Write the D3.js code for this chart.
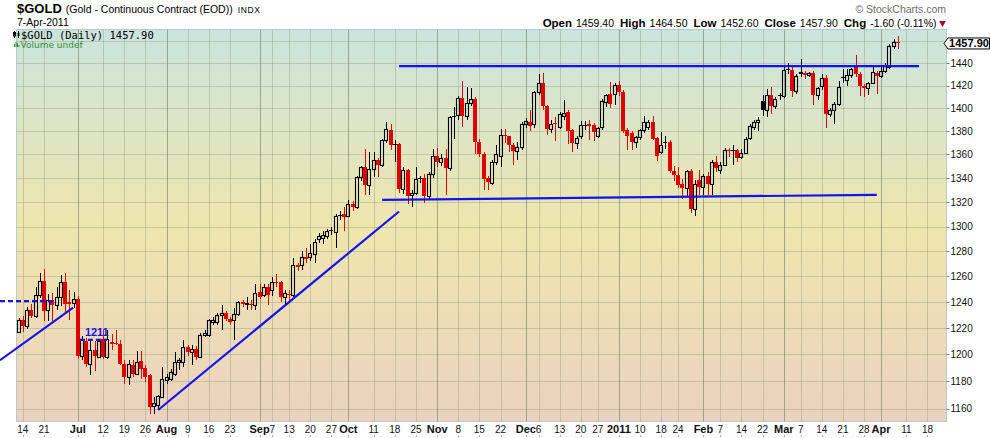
<!DOCTYPE html>
<html>
<head>
<meta charset="utf-8">
<title>$GOLD daily</title>
<script src="https://cdn.jsdelivr.net/npm/d3@7/dist/d3.min.js"></script>
<style>
  body { margin: 0; background: #fff; }
  svg { display: block; font-family: 'Liberation Sans', Arial, sans-serif; }
</style>
</head>
<body>
<svg id="chart" width="990" height="438"></svg>
<script>
'use strict';

// trading calendar (first bar, number of slots incl. the empty ones on the right, closed days)
var firstDay  = '2010-06-11';
var slotCount = 220;
var holidays  = ['2010-07-05', '2010-09-06', '2010-11-25', '2010-12-24', '2011-01-17', '2011-02-21'];

var opens = [
  1217, 1226.4, 1221.3, 1234, 1229.5, 1245.3, 1256.8, 1234, 1241.2, 1238,
  1244, 1255.5, 1240, 1239.2, 1242.7, 1198.5, 1210, 1192.5, 1203, 1198,
  1211.8, 1198, 1209.4, 1208.5, 1208.1, 1193, 1183.1, 1191.8, 1185.6, 1195,
  1189.8, 1184.4, 1161.8, 1162.5, 1168.5, 1180.7, 1181.9, 1185.6, 1194.3, 1194.3,
  1205.5, 1201.8, 1204.3, 1198, 1214.4, 1214.4, 1224.6, 1224.6, 1229.7, 1231.7,
  1227.2, 1225.9, 1231, 1240, 1238.2, 1238.7, 1237.4, 1247.9, 1245.3, 1251.8,
  1249.2, 1255.8, 1255.3, 1244, 1246.6, 1245.8, 1268.7, 1268.7, 1275.1, 1275.1,
  1277.8, 1290, 1291, 1292, 1297.5, 1295.3, 1309.8, 1309.9, 1308.8, 1318.6,
  1315.8, 1340.8, 1349.4, 1333.9, 1348, 1355.2, 1350.9, 1372, 1380.6, 1369,
  1369, 1331.1, 1346.5, 1325.6, 1327.5, 1340.5, 1339.7, 1324.9, 1343.7, 1359.1,
  1353.4, 1357.1, 1348.7, 1393, 1393.6, 1409.1, 1392.8, 1404.4, 1408.2, 1371,
  1360.6, 1340.3, 1335.8, 1353.7, 1358.3, 1376.5, 1375.4, 1368, 1362.7, 1366.6,
  1385.8, 1387.8, 1385.8, 1414.1, 1422, 1401.8, 1382, 1387, 1384, 1393.1,
  1396.5, 1380.6, 1369.5, 1375.4, 1385.5, 1386, 1385.5, 1376.2, 1383.5, 1405.3,
  1412.6, 1412.6, 1420.9, 1414.1, 1381.2, 1378.3, 1370.6, 1374.8, 1380.6, 1383.5,
  1387.8, 1374.2, 1361.9, 1370.6, 1370.4, 1345.6, 1343, 1334.7, 1331.9, 1345.6,
  1314.3, 1338.6, 1332.9, 1341.4, 1334.7, 1353.7, 1347.1, 1351.1, 1364, 1364,
  1363.4, 1357.7, 1361.4, 1373.7, 1383.5, 1387.8, 1405.9, 1398.8, 1411.8, 1401.8,
  1411.4, 1410.6, 1434.6, 1434, 1415, 1431.5, 1431, 1429, 1431, 1411.8,
  1419.4, 1426.6, 1395.1, 1398.8, 1403.8, 1427.9, 1424.5, 1429, 1437.3, 1430.4,
  1420, 1417.9, 1422.4, 1431, 1428.4, 1433.4, 1436.4, 1455.2, 1459.4
];
var highs = [
  1227.5, 1229, 1236, 1238.6, 1251.6, 1262.9, 1265.5, 1246.6, 1247, 1251.6,
  1261, 1262.9, 1249.5, 1247.8, 1244.5, 1214, 1212.5, 1210, 1210, 1211.5,
  1218.3, 1218.3, 1215.7, 1218.3, 1210.6, 1195.5, 1195.5, 1195.5, 1202.5, 1202.5,
  1191.8, 1185, 1168.5, 1170, 1190.5, 1185.6, 1189, 1201.8, 1197, 1210.6,
  1207, 1206.8, 1206, 1216, 1218.3, 1227, 1228.4, 1231.7, 1237.3, 1233,
  1228.4, 1235, 1241, 1241.5, 1244, 1241.2, 1254.2, 1254.2, 1254, 1254.2,
  1259.5, 1262, 1256.5, 1249.5, 1249, 1275, 1270.6, 1280.5, 1283, 1285.9,
  1290, 1295, 1296, 1298, 1300, 1310.5, 1313, 1315.8, 1321.4, 1320.8,
  1341.4, 1350, 1364.9, 1362, 1362, 1356.6, 1373, 1387.8, 1386.4, 1372,
  1370, 1349, 1348, 1329.7, 1349.3, 1342, 1343.7, 1345, 1364.9, 1365.7,
  1360, 1364.3, 1393.5, 1400.9, 1411.1, 1424.4, 1418.5, 1418, 1410, 1373,
  1362, 1342, 1355, 1367.7, 1382, 1382, 1376, 1370, 1371, 1388,
  1391, 1398.6, 1415, 1430.5, 1431, 1403, 1390, 1392, 1397, 1407.4,
  1398, 1382, 1376, 1388.4, 1388.4, 1389.3, 1387, 1383.5, 1408.2, 1412.6,
  1423, 1422, 1423.8, 1416, 1383, 1380, 1376, 1382, 1392.8, 1390,
  1392.8, 1375, 1379, 1375.4, 1372, 1350.4, 1349.3, 1339.4, 1347, 1347.9,
  1338.7, 1346.5, 1343.1, 1345, 1355.7, 1358.3, 1353.7, 1365.7, 1365.7, 1367.7,
  1365, 1364.9, 1374.8, 1386, 1390, 1392, 1411.2, 1417.1, 1418.5, 1410,
  1413, 1438.5, 1440, 1436.4, 1430, 1444, 1433, 1432, 1433, 1419,
  1430.4, 1429, 1400, 1405, 1423.6, 1434.9, 1434.9, 1436, 1447.8, 1432,
  1421, 1423, 1436.4, 1433, 1437.9, 1440, 1457, 1462.4, 1464.5
];
var lows = [
  1216, 1217, 1219, 1228, 1228, 1243, 1225.4, 1225.4, 1225, 1234,
  1237, 1232, 1225.9, 1235, 1196.8, 1196, 1190.5, 1184.4, 1187.6, 1197,
  1196.8, 1196.8, 1203, 1206.8, 1191.8, 1178.2, 1177, 1183.1, 1184.4, 1181.9,
  1179.4, 1156.3, 1155.9, 1160, 1167.3, 1178, 1180, 1184, 1188, 1190.5,
  1199, 1191.8, 1196, 1197, 1213, 1213, 1222, 1222, 1218.3, 1225,
  1222.1, 1210.6, 1229, 1236, 1233.5, 1234, 1233.5, 1242.7, 1244, 1237.3,
  1245, 1251.8, 1240, 1237.3, 1241, 1244, 1264, 1265, 1271, 1272,
  1271, 1287, 1286, 1290, 1293, 1283, 1305, 1296, 1307.4, 1313,
  1314, 1338, 1325.6, 1325.6, 1340.9, 1340.9, 1349, 1370, 1363.4, 1353.4,
  1328, 1327, 1318.6, 1315.8, 1326, 1336, 1319.2, 1323, 1340, 1349.4,
  1350, 1325.6, 1346, 1373.3, 1390, 1383.5, 1390, 1402, 1360.6, 1357.7,
  1330.3, 1330.3, 1334, 1351, 1349, 1370, 1362, 1351.4, 1355, 1364,
  1383, 1380, 1383, 1412, 1398, 1377, 1378, 1371.5, 1382, 1390,
  1369.2, 1361.9, 1365, 1373, 1380.6, 1372, 1371.9, 1374, 1381, 1400.9,
  1400, 1403, 1411, 1378, 1363.4, 1364, 1365.7, 1372, 1378, 1381,
  1372, 1354.8, 1360, 1365, 1344.2, 1337.5, 1332, 1322.8, 1324.1, 1311,
  1308.6, 1325.6, 1325.6, 1325.6, 1325.6, 1345.1, 1343.7, 1350, 1358, 1351,
  1353.7, 1356, 1360, 1372, 1381, 1380, 1392.8, 1392.2, 1395.1, 1399,
  1407, 1409, 1430, 1409.7, 1412.6, 1428, 1426, 1428, 1402.4, 1406.8,
  1416, 1382.6, 1392.2, 1386.1, 1402, 1422.4, 1420, 1427, 1428, 1410.3,
  1409.7, 1411.2, 1421, 1412.6, 1427, 1431, 1435, 1453, 1452.6
];
var closes = [
  1226.4, 1221.3, 1234, 1229.5, 1245.3, 1256.8, 1233, 1241.2, 1237.3, 1244,
  1255.5, 1238.6, 1238.2, 1242.7, 1198.5, 1211.8, 1192.5, 1203, 1198.5, 1210.1,
  1198, 1211.8, 1208.1, 1207.5, 1193, 1183.1, 1192.5, 1185.1, 1194.3, 1189.3,
  1183.1, 1161.3, 1163.7, 1169, 1181.9, 1183.1, 1186.8, 1194.3, 1195.5, 1205.5,
  1201.8, 1204.3, 1198, 1214.4, 1216.2, 1225.9, 1226.2, 1229.7, 1231.7, 1227.2,
  1224.6, 1231, 1239.9, 1238.2, 1239, 1237.4, 1247.1, 1244, 1251.8, 1245.3,
  1255.8, 1254.5, 1244, 1247.1, 1245.3, 1268.7, 1267.4, 1275.1, 1273.8, 1279,
  1287.3, 1292.7, 1293, 1296.7, 1297, 1309, 1309.5, 1307.7, 1318.6, 1315.8,
  1340.8, 1349.4, 1333.9, 1348, 1355.2, 1350.9, 1372, 1382, 1367.7, 1368.7,
  1331.1, 1347.1, 1324.9, 1327.5, 1339.4, 1339.7, 1324.9, 1343.7, 1358.3, 1353.4,
  1357.1, 1348.7, 1392.5, 1392.8, 1409.1, 1392.8, 1404.4, 1408.2, 1371, 1360.6,
  1339.4, 1336.6, 1353.7, 1360.6, 1377.1, 1375.4, 1368, 1362.7, 1366.6, 1385.8,
  1388.7, 1384.3, 1414.1, 1422, 1401.8, 1382, 1386.4, 1386, 1394.5, 1396,
  1380, 1369.5, 1374.2, 1384.9, 1385.2, 1384.3, 1379.1, 1382.9, 1406.2, 1411.2,
  1403.8, 1420.9, 1414.1, 1380, 1376.2, 1370.6, 1374.8, 1381.2, 1387.8, 1388,
  1373.3, 1359.1, 1367.7, 1369.5, 1345.6, 1342.3, 1333.9, 1331.9, 1345.6, 1314.3,
  1335.3, 1332.9, 1341.4, 1334.7, 1353.7, 1348.7, 1351.4, 1363.4, 1363, 1363.4,
  1356.6, 1361.4, 1373.3, 1384.8, 1387.8, 1389.5, 1398.8, 1411.8, 1401.8, 1408.2,
  1410.9, 1434, 1434.3, 1415, 1428.4, 1431.9, 1429, 1431, 1411.8, 1417.6,
  1426.6, 1395.1, 1398.8, 1403.8, 1418.5, 1427.5, 1429, 1434.9, 1430.4, 1419.4,
  1417.9, 1422.4, 1431.9, 1428.4, 1433.4, 1438.5, 1455.8, 1459.5, 1457.9
];

var priceTicks = [1160, 1180, 1200, 1220, 1240, 1260, 1280, 1300, 1320, 1340, 1360, 1380, 1400, 1420, 1440];
var gridPrices = priceTicks.concat([1460]);
var priceRange = [1150.6, 1470.7];

// annotations drawn on the chart, as [trading day, price]
var trendLines = [
  { from: [-4.4, 1195.6], to: [12.9, 1235.6], dashed: false },
  { from: [-4.4, 1240.6], to: [8.6, 1240.6], dashed: true },
  { from: [14.5, 1211], to: [20.9, 1211], dashed: true },
  { from: [33.0, 1158.9], to: [90.0, 1312.3], dashed: false },
  { from: [86.0, 1321.8], to: [203.0, 1326.1], dashed: false },
  { from: [90.0, 1437.3], to: [213.0, 1437.3], dashed: false }
];
var levelNotes = [{ day: 18.5, price: 1211, text: '1211' }];

var monthNames = ['Jan', 'Feb', 'Mar', 'Apr', 'May', 'Jun', 'Jul', 'Aug', 'Sep', 'Oct', 'Nov', 'Dec'];

var box  = { left: 16.5, right: 946.5, top: 29.5, bottom: 421.5 };
var red  = '#e00000';
var blue = '#1212f2';

function tradingDays(start, count, closed) {
  var out = [];
  var key = d3.timeFormat('%Y-%m-%d');
  var d = d3.timeParse('%Y-%m-%d')(start);
  while (out.length < count) {
    var wd = d.getDay();
    if (wd !== 0 && wd !== 6 && closed.indexOf(key(d)) < 0) out.push(d);
    d = d3.timeDay.offset(d, 1);
  }
  return out;
}

var days = tradingDays(firstDay, slotCount, holidays);
var last = closes.length - 1;

var x = d3.scaleLinear().domain([-0.5, slotCount - 0.5]).range([box.left, box.right]);
var y = d3.scaleLog().domain(priceRange).range([box.bottom, box.top]);

var svg  = d3.select('#chart');
var defs = svg.append('defs');
var grad = defs.append('linearGradient').attr('id', 'bg')
  .attr('x1', 0).attr('y1', 0).attr('x2', 0).attr('y2', 1);
grad.selectAll('stop')
  .data([[0, '#cbe4dd'], [0.5, '#efe6ae'], [1, '#ead2bf']])
  .enter().append('stop')
    .attr('offset', function (d) { return d[0]; })
    .attr('stop-color', function (d) { return d[1]; });

svg.append('rect')
  .attr('x', box.left).attr('y', box.top)
  .attr('width', box.right - box.left).attr('height', box.bottom - box.top)
  .attr('fill', 'url(#bg)');

var gridG   = svg.append('g');
var candleG = svg.append('g');
var frameG  = svg.append('g');
var lineG   = svg.append('g');
var axisG   = svg.append('g');
var headG   = svg.append('g');

// --- x axis labels: month starts bold, week starts plain
var ticks = [];
days.forEach(function (d, i) {
  if (i === 0) return;
  var p = days[i - 1];
  if (p.getMonth() !== d.getMonth()) {
    ticks.push({ i: i, month: true, text: d.getMonth() === 0 ? String(d.getFullYear()) : monthNames[d.getMonth()] });
  } else if (+d3.timeMonday.floor(p) !== +d3.timeMonday.floor(d)) {
    ticks.push({ i: i, month: false, text: String(d.getDate()) });
  }
});

var xLabels = axisG.selectAll('.xl').data(ticks).enter().append('text')
  .attr('class', 'xl')
  .attr('x', function (d) { return x(d.i); })
  .attr('y', 433)
  .attr('text-anchor', 'middle')
  .style('font-size', function (d) { return d.month ? '11px' : '10px'; })
  .style('font-weight', function (d) { return d.month ? 'bold' : 'normal'; })
  .attr('fill', '#111')
  .text(function (d) { return d.text; })
  .each(function (d) {
    var w = this.getComputedTextLength();
    d.x0 = x(d.i) - w / 2;
    d.x1 = x(d.i) + w / 2;
  });

// week labels give way to month labels
ticks.forEach(function (d, k) {
  if (d.month) return;
  var a = ticks[k - 1], b = ticks[k + 1];
  if ((a && a.month && a.x1 - d.x0 > 1) || (b && b.month && d.x1 - b.x0 > 0)) d.hide = true;
});
xLabels.filter(function (d) { return d.hide; }).remove();
var shown = ticks.filter(function (d) { return !d.hide; });

// --- grid
gridG.selectAll('.hg').data(gridPrices).enter().append('line')
  .attr('x1', box.left).attr('x2', box.right)
  .attr('y1', function (d) { return Math.round(y(d)) + 0.5; })
  .attr('y2', function (d) { return Math.round(y(d)) + 0.5; })
  .attr('stroke', '#8e9a80').attr('stroke-opacity', 0.4);

gridG.selectAll('.vg').data(shown).enter().append('line')
  .attr('x1', function (d) { return Math.round(x(d.i)) + 0.5; })
  .attr('x2', function (d) { return Math.round(x(d.i)) + 0.5; })
  .attr('y1', box.top).attr('y2', box.bottom)
  .attr('stroke', function (d) { return d.month ? '#78866a' : '#8e9a80'; })
  .attr('stroke-opacity', function (d) { return d.month ? 0.65 : 0.4; });

// --- candles: black when close >= previous close, hollow when close >= open
var bars = opens.map(function (o, i) {
  return { i: i, o: o, h: highs[i], l: lows[i], c: closes[i], prev: i ? closes[i - 1] : o };
});

candleG.selectAll('g').data(bars).enter().append('g')
  .each(function (d) {
    var g = d3.select(this);
    var col = d.c >= d.prev ? '#000' : red;
    var n = Math.round(x(d.i));
    var yh = Math.round(y(d.h)), yl = Math.round(y(d.l));
    var yt = Math.round(y(Math.max(d.o, d.c))), yb = Math.round(y(Math.min(d.o, d.c)));
    if (d.c >= d.o) {
      g.append('line').attr('x1', n + 0.5).attr('x2', n + 0.5).attr('y1', yh).attr('y2', yt)
        .attr('stroke', col);
      g.append('line').attr('x1', n + 0.5).attr('x2', n + 0.5).attr('y1', yb).attr('y2', yl)
        .attr('stroke', col);
      g.append('rect').attr('x', n - 1.5).attr('y', yt + 0.5)
        .attr('width', 3).attr('height', Math.max(0, yb - yt))
        .attr('fill', 'none').attr('stroke', col).attr('stroke-width', 1.1);
    } else {
      g.append('line').attr('x1', n + 0.5).attr('x2', n + 0.5).attr('y1', yh).attr('y2', yl)
        .attr('stroke', col);
      g.append('rect').attr('x', n - 2).attr('y', yt)
        .attr('width', 4).attr('height', Math.max(1, yb - yt))
        .attr('fill', col);
    }
  });

// --- frame and right axis
frameG.append('rect')
  .attr('x', box.left).attr('y', box.top)
  .attr('width', box.right - box.left).attr('height', box.bottom - box.top)
  .attr('fill', 'none').attr('stroke', '#7fa9b3').attr('stroke-dasharray', '1,1');

axisG.selectAll('.yt').data(priceTicks).enter().append('line')
  .attr('x1', box.right).attr('x2', box.right + 3)
  .attr('y1', function (d) { return Math.round(y(d)) + 0.5; })
  .attr('y2', function (d) { return Math.round(y(d)) + 0.5; })
  .attr('stroke', '#6f8f96');

axisG.selectAll('.yl').data(priceTicks).enter().append('text')
  .attr('x', box.right + 4)
  .attr('y', function (d) { return y(d); })
  .attr('dy', '0.36em')
  .style('font-size', '10px')
  .attr('fill', '#111')
  .text(function (d) { return d; });

axisG.selectAll('.xt').data(shown).enter().append('line')
  .attr('x1', function (d) { return Math.round(x(d.i)) + 0.5; })
  .attr('x2', function (d) { return Math.round(x(d.i)) + 0.5; })
  .attr('y1', 435).attr('y2', 437)
  .attr('stroke', '#aaa');

// --- trend lines
lineG.selectAll('line').data(trendLines).enter().append('line')
  .attr('x1', function (d) { return x(d.from[0]); })
  .attr('y1', function (d) { return y(d.from[1]); })
  .attr('x2', function (d) { return x(d.to[0]); })
  .attr('y2', function (d) { return y(d.to[1]); })
  .attr('stroke', blue).attr('stroke-width', 2.2)
  .attr('stroke-dasharray', function (d) { return d.dashed ? '5,3' : null; });

lineG.selectAll('text').data(levelNotes).enter().append('text')
  .attr('x', function (d) { return x(d.day); })
  .attr('y', function (d) { return y(d.price) - 4; })
  .attr('text-anchor', 'middle')
  .style('font-size', '11px').style('font-weight', 'bold')
  .attr('fill', blue)
  .text(function (d) { return d.text; });

// --- last price tag
var yl = y(closes[last]);
axisG.append('path')
  .attr('d', 'M' + (box.right - 2.5) + ',' + yl +
             'L' + (box.right + 1.5) + ',' + (yl - 5.5) +
             'H989.5V' + (yl + 5.5) + 'H' + (box.right + 1.5) + 'Z')
  .attr('fill', '#fff').attr('stroke', '#000');
axisG.append('text')
  .attr('x', 969).attr('y', yl).attr('dy', '0.36em')
  .attr('text-anchor', 'middle')
  .style('font-size', '11px').style('font-weight', 'bold')
  .text(closes[last].toFixed(2));

// --- header
var chg = closes[last] - closes[last - 1];
var pct = chg / closes[last - 1] * 100;

var title = headG.append('text').attr('x', 17).attr('y', 13);
title.append('tspan').style('font-size', '13px').style('font-weight', 'bold').text('$GOLD');
title.append('tspan').attr('dx', 4).style('font-size', '10.5px').text('(Gold - Continuous Contract (EOD))');
title.append('tspan').attr('dx', 5).style('font-size', '8.5px').style('letter-spacing', '0.6px').text('INDX');

headG.append('text').attr('x', 17).attr('y', 26)
  .style('font-size', '10.5px')
  .text(d3.timeFormat('%-d-%b-%Y')(days[last]));

headG.append('text').attr('x', 946).attr('y', 13)
  .attr('text-anchor', 'end')
  .style('font-size', '10.5px').attr('fill', '#6e6e6e')
  .text('\u00a9 StockCharts.com');

var quoteParts = [
  { t: 'Open', b: true }, { t: opens[last].toFixed(2) },
  { t: 'High', b: true }, { t: highs[last].toFixed(2) },
  { t: 'Low', b: true }, { t: lows[last].toFixed(2) },
  { t: 'Close', b: true }, { t: closes[last].toFixed(2) },
  { t: 'Chg', b: true }, { t: chg.toFixed(2) + ' (' + pct.toFixed(2) + '%)' }
];
var quote = headG.append('text').attr('x', 936.5).attr('y', 26.5).attr('text-anchor', 'end');
quoteParts.forEach(function (p, k) {
  quote.append('tspan')
    .attr('dx', k === 0 ? 0 : (p.b ? 6 : 4))
    .style('font-size', p.b ? '11.5px' : '10.5px')
    .style('font-weight', p.b ? 'bold' : 'normal')
    .text(p.t);
});
headG.append('path')
  .attr('d', d3.symbol().type(d3.symbolTriangle).size(20))
  .attr('transform', 'translate(942.5,23) rotate(180)')
  .attr('fill', chg < 0 ? '#b0002a' : '#0a0');

// legend inside the plot
var leg = headG.append('g');
leg.append('line').attr('x1', 14.5).attr('x2', 14.5).attr('y1', 31).attr('y2', 38).attr('stroke', '#000');
leg.append('rect').attr('x', 13.5).attr('y', 32.5).attr('width', 2).attr('height', 3.5).attr('fill', 'none').attr('stroke', '#000');
leg.append('line').attr('x1', 18.5).attr('x2', 18.5).attr('y1', 31).attr('y2', 38).attr('stroke', '#000');
leg.append('rect').attr('x', 17.5).attr('y', 33).attr('width', 2).attr('height', 3).attr('fill', '#000');
leg.append('text').attr('x', 21).attr('y', 38.5)
  .style('font-family', "'DejaVu Sans Mono', monospace").style('font-size', '10.5px')
  .text('$GOLD (Daily) ' + closes[last].toFixed(2));
[[14, 3], [15.5, 5], [17, 4], [18.5, 2]].forEach(function (b) {
  leg.append('rect').attr('x', b[0]).attr('y', 47 - b[1]).attr('width', 1).attr('height', b[1]).attr('fill', '#2f8f2f');
});
leg.append('text').attr('x', 20.5).attr('y', 47.5)
  .style('font-family', "'DejaVu Sans', sans-serif").style('font-size', '9px')
  .attr('fill', '#2f8f2f')
  .text('Volume undef');
</script>
</body>
</html>
